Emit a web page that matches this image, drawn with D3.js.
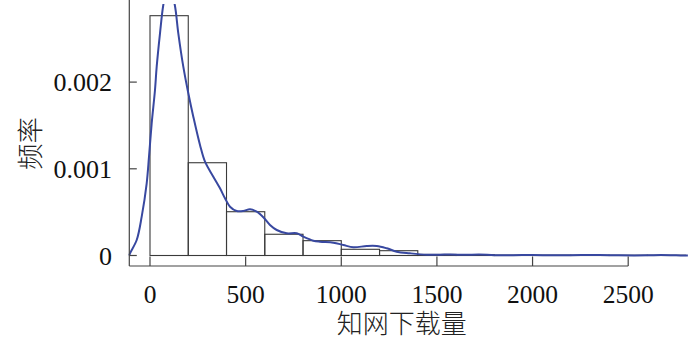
<!DOCTYPE html>
<html><head><meta charset="utf-8">
<script src="https://cdn.jsdelivr.net/npm/d3@7"></script>
<style>body{margin:0;background:#fff;}svg{display:block;}</style>
</head><body>
<svg id="c" width="700" height="348"></svg>
<script>
// Histogram bins (start of each 200-wide bin) and densities
const binStarts = [0, 200, 400, 600, 800, 1000, 1200, 1400, 1600, 1800, 2000, 2200, 2400, 2600];
const binWidth = 200;
const binValues = [0.002766, 0.00107, 0.000505, 0.000245, 0.000171, 0.0000715, 0.0000554,
                   0.000012, 0.000009, 0.000004, 0.000004, 0.000003, 0.000003, 0.000003];
// Kernel density curve
const densX = [-108, -104.6, -69.5, -43.4, -17.3, -5.2, 8.9, 26.1, 35, 52.3, 69.5, 97, 129.7, 148, 174.1,
  200.3, 226.4, 261.4, 287.6, 331, 366, 392.1, 418.3, 453.3, 487.8, 522.8, 557.9, 592.4, 627.4,
  662.5, 714.7, 767, 801.5, 853.8, 888.8, 958.4, 1010.7, 1063, 1133, 1185.3, 1237.6, 1289.9,
  1359.4, 1446.7, 1516.3, 1570, 1650, 1720, 1800, 1900, 2000, 2100, 2200, 2350, 2450, 2600, 2670, 2750, 2812];
const densY = [0, 0.0000254, 0.000179, 0.000448, 0.000833, 0.00114, 0.001525, 0.001909, 0.002178, 0.002563,
  0.002889, 0.00318, 0.002889, 0.002563, 0.002178, 0.001871, 0.001601, 0.001275, 0.001082, 0.000909,
  0.000775, 0.00066, 0.000563, 0.000513, 0.000513, 0.000533, 0.000505, 0.000441, 0.000352, 0.000294,
  0.000256, 0.000256, 0.000217, 0.000171, 0.000159, 0.000148, 0.000121, 0.0000946, 0.00011, 0.00011,
  0.000083, 0.0000438, 0.0000254, 0.0000092, 0.0000092, 0.000012, 0.000008, 0.000012, 0.000004,
  0.000003, 0.000006, 0.000002, 0.000003, 0.000006, 0.000002, 0.000002, 0.000006, 0.000002, 0.0000005];
const xTicks = [0, 500, 1000, 1500, 2000, 2500];
const yTicks = [0, 0.001, 0.002];
const yTickLabels = ["0", "0.001", "0.002"];
const xTitle = "知网下载量";
const yTitle = "频率";

const svg = d3.select("#c");
const x = d3.scaleLinear().domain([0, 2500]).range([150, 628.2]);
const y = d3.scaleLinear().domain([0, 0.002]).range([255.5, 82.1]);
const axisX0 = 129.3, axisY0 = 266;
const serif = "'Liberation Serif', 'Times New Roman', serif";
const cjk = "'Liberation Serif', 'Noto Sans CJK SC', sans-serif";

svg.append("defs").append("clipPath").attr("id", "clip")
  .append("rect").attr("x", 0).attr("y", 4).attr("width", 700).attr("height", 348);

// bars
svg.append("g").selectAll("rect").data(binStarts).join("rect")
  .attr("x", d => x(d))
  .attr("y", (d, i) => y(binValues[i]))
  .attr("width", d => x(d + binWidth) - x(d))
  .attr("height", (d, i) => y(0) - y(binValues[i]))
  .attr("fill", "none").attr("stroke", "#3a3a3a").attr("stroke-width", 1.1);

// density
const line = d3.line().x(d => x(d[0])).y(d => y(d[1])).curve(d3.curveCatmullRom.alpha(0.5));
svg.append("path").datum(densX.map((v, i) => [v, densY[i]]))
  .attr("clip-path", "url(#clip)")
  .attr("d", line).attr("fill", "none").attr("stroke", "#3848a0").attr("stroke-width", 2);

// axes
const ax = svg.append("g").attr("stroke", "#444").attr("stroke-width", 1.2);
ax.append("line").attr("x1", axisX0).attr("x2", axisX0).attr("y1", 0).attr("y2", axisY0);
ax.append("line").attr("x1", axisX0).attr("x2", x(2500)).attr("y1", axisY0).attr("y2", axisY0);
ax.selectAll(".yt").data(yTicks).join("line")
  .attr("x1", axisX0).attr("x2", axisX0 + 7.5).attr("y1", d => y(d)).attr("y2", d => y(d));
ax.selectAll(".xt").data(xTicks).join("line")
  .attr("x1", d => x(d)).attr("x2", d => x(d)).attr("y1", axisY0).attr("y2", axisY0 - 9.5);

svg.append("g").selectAll("text").data(xTicks).join("text")
  .attr("x", d => x(d)).attr("y", 303).attr("text-anchor", "middle")
  .attr("font-family", serif).attr("font-size", 25.5).attr("fill", "#111")
  .text(d => d);
svg.append("g").selectAll("text").data(yTicks).join("text")
  .attr("x", 112).attr("y", d => y(d) + 9).attr("text-anchor", "end")
  .attr("font-family", serif).attr("font-size", 26).attr("fill", "#111")
  .text((d, i) => yTickLabels[i]);

svg.append("text").attr("x", 401.7).attr("y", 333).attr("text-anchor", "middle")
  .attr("font-family", cjk).attr("font-weight", 300).attr("font-size", 26).attr("fill", "#222")
  .text(xTitle);
svg.append("text").attr("transform", "translate(30.5,143.5) rotate(-90)")
  .attr("text-anchor", "middle").attr("dominant-baseline", "central")
  .attr("font-family", cjk).attr("font-weight", 300).attr("font-size", 26.5).attr("fill", "#222")
  .text(yTitle);
</script>
</body></html>
